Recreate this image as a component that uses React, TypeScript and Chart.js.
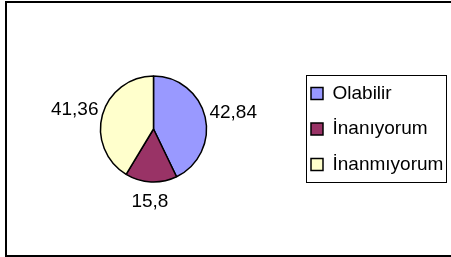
import React, { useEffect, useRef } from "react";
import { Chart, registerables } from "chart.js";

Chart.register(...registerables);

const categories = ["Olabilir", "İnanıyorum", "İnanmıyorum"];
const values = [42.84, 15.8, 41.36];
const valueLabels = ["42,84", "15,8", "41,36"];
const colors = ["#9999FF", "#993366", "#FFFFCC"];

const FONT = "'Liberation Sans', Arial, sans-serif";

const framePlugin = {
  id: "frames",
  beforeDraw(chart: any) {
    const ctx = chart.ctx;
    ctx.save();
    ctx.fillStyle = "#fff";
    ctx.fillRect(0, 0, chart.width, chart.height);
    ctx.strokeStyle = "#000";
    ctx.lineWidth = 2;
    ctx.strokeRect(6, 2, chart.width + 20, chart.height - 3);
    ctx.restore();
  },
  afterDraw(chart: any) {
    const lg = chart.legend;
    if (!lg || !lg.legendHitBoxes || !lg.legendHitBoxes.length) return;
    const hb = lg.legendHitBoxes;
    const first = hb[0];
    const last = hb[hb.length - 1];
    const ctx = chart.ctx;
    ctx.save();
    ctx.strokeStyle = "#000";
    ctx.lineWidth = 1;
    const x0 = Math.round(first.left - 5) + 0.5;
    const y0 = Math.round(first.top - 9) + 0.5;
    const x1 = Math.round(first.left + 135) + 0.5;
    const y1 = Math.round(last.top + last.height + 8) + 0.5;
    ctx.strokeRect(x0, y0, x1 - x0, y1 - y0);
    ctx.restore();
  },
};

const labelPlugin = {
  id: "outLabels",
  afterDatasetsDraw(chart: any) {
    const ctx = chart.ctx;
    const meta = chart.getDatasetMeta(0);
    ctx.save();
    ctx.font = `19px ${FONT}`;
    ctx.fillStyle = "#000";
    ctx.textAlign = "center";
    ctx.textBaseline = "middle";
    meta.data.forEach((arc: any, i: number) => {
      const mid = (arc.startAngle + arc.endAngle) / 2;
      const dx = Math.cos(mid);
      const dy = Math.sin(mid);
      const r = arc.outerRadius + 3;
      const text = valueLabels[i];
      const w = ctx.measureText(text).width;
      const cx = arc.x + dx * r + dx * (w / 2 + 2);
      const cy = arc.y + dy * r + dy * 17;
      ctx.fillText(text, cx, cy);
    });
    ctx.restore();
  },
};

export default function App() {
  const ref = useRef<HTMLCanvasElement | null>(null);
  useEffect(() => {
    if (!ref.current) return;
    const chart = new Chart(ref.current, {
      type: "pie",
      data: {
        labels: categories,
        datasets: [
          {
            data: values,
            backgroundColor: colors,
            borderColor: "#000",
            borderWidth: 1.5,
          },
        ],
      },
      options: {
        responsive: false,
        animation: false,
        radius: 53,
        layout: { padding: { left: 12.5, right: 0, top: 1, bottom: 0 } },
        plugins: {
          tooltip: { enabled: false },
          legend: {
            position: "right",
            maxWidth: 156.5,
            labels: {
              boxWidth: 12,
              boxHeight: 12,
              padding: 16.5,
              color: "#000",
              font: { size: 19, family: FONT },
            },
          },
        },
      } as any,
      plugins: [framePlugin, labelPlugin],
    });
    return () => chart.destroy();
  }, []);
  return (
    <div style={{ position: "absolute", left: 0, top: 0, width: 451, height: 257, overflow: "hidden" }}>
      <canvas ref={ref} width={451} height={257} style={{ display: "block" }} />
    </div>
  );
}
